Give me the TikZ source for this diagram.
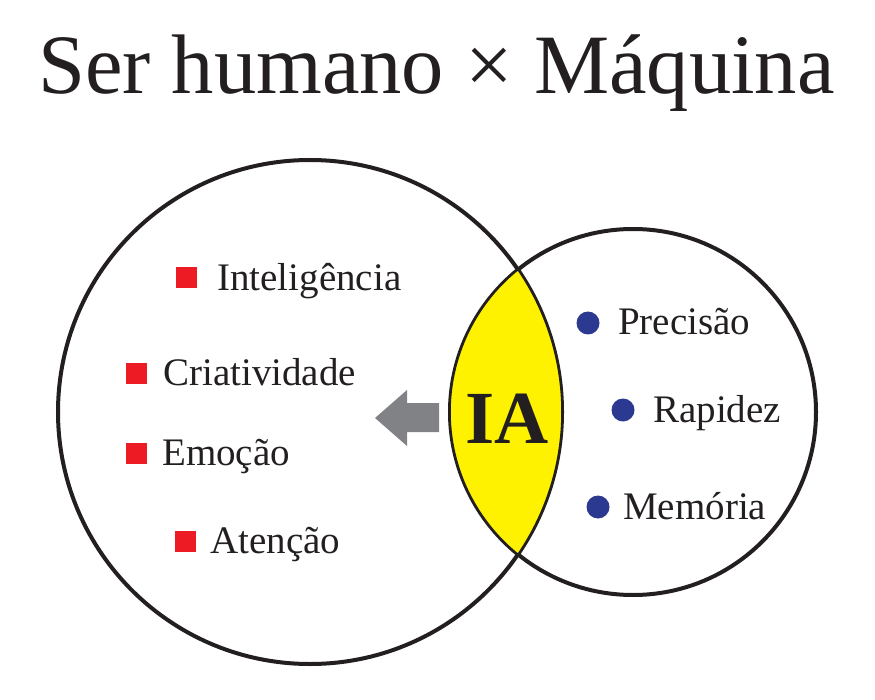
\documentclass[tikz,border=0pt]{standalone}
\usepackage{fontspec}
\setmainfont{Liberation Serif}
\definecolor{ink}{HTML}{231F20}
\definecolor{redsq}{HTML}{ED1C24}
\definecolor{bluedot}{HTML}{2B3990}
\definecolor{lensy}{HTML}{FFF200}
\definecolor{arrowgray}{HTML}{808285}
\begin{document}
\begin{tikzpicture}[x=1pt,y=-1pt,
  item/.style={anchor=base west,inner sep=0pt,text=ink,font=\fontsize{39}{39}\selectfont},
  sqmark/.style={fill=redsq,draw=none,minimum size=21pt,inner sep=0pt,rectangle},
  dotmark/.style={fill=bluedot,draw=none,circle,minimum size=23pt,inner sep=0pt},
  ring/.style={draw=ink,line width=4pt}]
\useasboundingbox (0,0) rectangle (875,700);
% title
\node[anchor=base west,inner sep=0pt,text=ink,font=\fontsize{84.5}{84.5}\selectfont] (title) at (38,94) {Ser humano × Máquina};
% circles
\coordinate (cbig) at (310,412);
\coordinate (csmall) at (633,412);
\draw[ring] (cbig) circle[radius=252];
\draw[ring] (csmall) circle[radius=183];
% lens
\coordinate (ltop) at (517.96,269.7);
\coordinate (lbot) at (517.96,554.3);
\path[fill=lensy,draw=ink,line width=1.5pt] (ltop) arc[start angle=-34.38,end angle=34.38,radius=252]
  arc[start angle=128.96,end angle=231.04,radius=183] -- cycle;
\node[inner sep=0pt,anchor=base,text=ink,font=\fontsize{75}{75}\bfseries\selectfont] (ia) at (507,443) {IA};
% arrow
\path[fill=arrowgray] (375,418) -- (407,390) -- (407,403) -- (439,403) -- (439,432) -- (407,432) -- (407,446) -- cycle;
% left items
\node[sqmark] (s1) at (186,278) {};
\node[item] (t1) at (217,291) {Inteligência};
\node[sqmark] (s2) at (136,373) {};
\node[item] (t2) at (163,385) {Criatividade};
\node[sqmark] (s3) at (136,453) {};
\node[item] (t3) at (162,465) {Emoção};
\node[sqmark] (s4) at (185,541) {};
\node[item] (t4) at (210,553) {Atenção};
% right items
\node[dotmark] (d1) at (588,323) {};
\node[item] (r1) at (618,335) {Precisão};
\node[dotmark] (d2) at (623,410) {};
\node[item] (r2) at (653,422) {Rapidez};
\node[dotmark] (d3) at (598,507) {};
\node[item] (r3) at (623,519) {Memória};
\end{tikzpicture}
\end{document}
